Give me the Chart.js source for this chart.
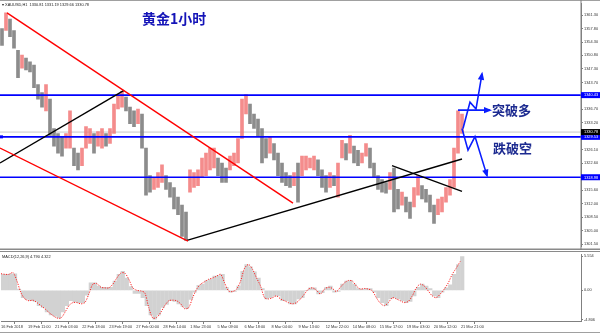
<!DOCTYPE html>
<html lang="zh">
<head>
<meta charset="UTF-8">
<title>黄金1小时</title>
<script src="https://cdn.jsdelivr.net/npm/chart.js@4.4.0/dist/chart.umd.min.js"></script>
<style>
  body { margin: 0; background: #fff; }
  #wrap { position: relative; width: 600px; height: 333px; overflow: hidden; }
  #price { position: absolute; left: 0; top: 0; }
  #macd { position: absolute; left: 0; top: 251px; }
</style>
</head>
<body>
<div id="wrap">
  <canvas id="price" width="600" height="250"></canvas>
  <canvas id="macd" width="600" height="82"></canvas>
</div>
<script>
// time axis labels (one every ~32 H1 bars)
const timeLabels = ['16 Feb 2018', '19 Feb 11:00', '21 Feb 03:00', '22 Feb 18:00', '23 Feb 19:00',
  '27 Feb 00:00', '28 Feb 14:00', '1 Mar 23:00', '5 Mar 09:00', '6 Mar 18:00', '8 Mar 04:00',
  '9 Mar 13:00', '12 Mar 22:00', '14 Mar 08:00', '15 Mar 17:00', '19 Mar 03:00', '20 Mar 12:00',
  '21 Mar 21:00'];
const priceTicks = [1361.30, 1357.80, 1354.30, 1350.80, 1347.30, 1343.70, 1336.70, 1333.20,
  1326.10, 1322.60, 1315.60, 1312.00, 1308.50, 1305.00, 1301.50];
const macdTicks = [5.554, 0, -4.806];

// price range per column (high / low)
const highs = [1357.8, 1361.9, 1360.3, 1357.3, 1352.1, 1350.9, 1350.1, 1349.1, 1348.3, 1343.2,
  1341.1, 1343.2, 1339.4, 1331.7, 1330.4, 1329.6, 1330.4, 1336.3, 1326.6, 1325.3,
  1326.6, 1332.2, 1331.7, 1330.4, 1330.9, 1331.7, 1330.4, 1331.7, 1338.1, 1340.6,
  1341.4, 1339.9, 1337.3, 1336.3, 1336.8, 1335.5, 1326.6, 1319.4, 1318.9, 1320.2,
  1322.2, 1319.4, 1317.6, 1316.3, 1313.8, 1311.7, 1309.9, 1320.9, 1320.2, 1320.9,
  1324.0, 1325.3, 1326.6, 1326.6, 1324.0, 1322.7, 1321.4, 1324.5, 1325.3, 1329.1,
  1339.4, 1340.6, 1338.1, 1335.5, 1334.2, 1331.7, 1329.1, 1329.6, 1327.8, 1325.3,
  1322.7, 1320.2, 1319.4, 1320.2, 1322.7, 1324.5, 1324.5, 1324.0, 1324.5, 1323.5,
  1320.9, 1319.4, 1320.2, 1319.4, 1322.7, 1328.6, 1327.8, 1329.9, 1327.1, 1326.0,
  1325.3, 1327.8, 1326.6, 1322.7, 1319.4, 1318.4, 1317.6, 1320.2, 1321.4, 1315.8,
  1315.1, 1313.8, 1312.5, 1316.3, 1319.4, 1316.8, 1315.8, 1314.3, 1311.7, 1313.3,
  1313.8, 1316.3, 1318.4, 1326.6, 1336.3, 1335.5];
const lows = [1353.4, 1357.3, 1355.7, 1352.7, 1345.0, 1347.5, 1347.0, 1346.5, 1342.4, 1339.4,
  1337.3, 1336.3, 1329.9, 1327.1, 1325.3, 1324.5, 1326.6, 1326.6, 1322.0, 1320.9,
  1322.0, 1326.6, 1327.8, 1325.3, 1327.1, 1326.6, 1327.1, 1327.8, 1330.4, 1336.8,
  1337.3, 1336.3, 1333.0, 1332.2, 1333.0, 1326.6, 1314.3, 1315.1, 1315.8, 1316.3,
  1317.6, 1315.8, 1313.8, 1310.7, 1309.2, 1303.5, 1302.5, 1315.1, 1316.3, 1316.8,
  1318.9, 1319.4, 1320.9, 1321.4, 1319.4, 1317.6, 1317.6, 1320.9, 1322.0, 1322.7,
  1329.1, 1335.5, 1333.0, 1331.7, 1329.6, 1322.7, 1324.0, 1325.3, 1323.5, 1319.4,
  1317.6, 1316.8, 1316.3, 1316.8, 1312.5, 1319.4, 1320.9, 1321.4, 1320.9, 1319.4,
  1316.3, 1315.1, 1316.3, 1316.8, 1313.8, 1324.0, 1323.5, 1325.3, 1322.7, 1322.0,
  1322.7, 1324.5, 1321.4, 1318.9, 1315.8, 1315.1, 1314.8, 1315.8, 1309.9, 1310.7,
  1311.7, 1309.9, 1308.2, 1311.2, 1314.3, 1313.3, 1312.5, 1309.9, 1306.9, 1309.2,
  1309.9, 1312.5, 1314.3, 1316.3, 1325.3, 1330.4];

// MACD(12,26,9)
const macdHist = [2.6, 2.6, 2.7, 2.7, 0.2, -1.2, -1.5, -1.7, -1.8, -2.5,
  -2.8, -3.5, -4.0, -4.2, -4.5, -3.5, -2.5, -1.7, -1.9, -2.0,
  -2.0, -0.8, 1.2, 1.2, 0.7, 0.5, 0.5, 0.5, 1.5, 2.6,
  3.1, 2.0, 0.6, -0.5, -0.5, -1.2, -2.5, -4.0, -4.7, -4.0,
  -2.8, -2.3, -1.7, -1.8, -2.2, -2.6, -3.0, -1.5, -0.3, 0.8,
  1.0, 1.6, 1.8, 2.3, 2.4, 2.6, 0.5, -0.3, -0.2, 0.7,
  3.1, 4.2, 3.8, 3.0, 2.0, 0.3, -1.4, -1.2, -0.9, -0.9,
  -1.7, -1.7, -2.2, -2.2, -1.4, -1.2, 0, 0.4, 0.4, -0.6,
  -0.4, 0.5, 0.7, -0.3, -0.2, 1.0, 1.5, 1.6, 1.0, 0.3,
  0.2, 0.3, 0.3, -0.3, -1.2, -2.0, -2.5, -1.4, -1.2, -1.4,
  -1.7, -2.0, -1.8, -0.9, 0.5, 1.0, 0.7, 0.3, -0.9, -1.2,
  -0.3, 0.4, 0.9, 2.6, 4.2, 5.5];
const macdSignal = [2.7, 2.6, 2.6, 2.9, 1.5, -0.4, -1.4, -1.7, -1.6, -2.0,
  -2.5, -3.0, -3.6, -4.1, -4.5, -4.5, -3.6, -2.5, -2.0, -2.0,
  -2.2, -2.0, -0.6, 1.0, 1.1, 0.5, 0.4, 0.4, 1.0, 2.0,
  2.8, 2.8, 1.8, 0.4, 0, -0.1, -0.4, -2.8, -4.5, -4.4,
  -3.6, -2.5, -1.7, -1.6, -1.7, -2.2, -3.0, -2.8, -1.2, 0.2,
  1.0, 1.4, 1.8, 2.0, 2.3, 2.6, 1.2, -0.1, -0.2, 0.2,
  1.5, 3.6, 4.2, 3.4, 2.0, 0.7, -1.2, -1.4, -1.2, -0.9,
  -1.4, -1.7, -2.0, -2.2, -2.0, -1.4, -0.6, 0.2, 0.4, 0,
  -0.6, 0.2, 0.5, 0.3, -0.2, 0.5, 1.2, 1.6, 1.5, 0.7,
  0.2, 0.3, 0.2, -0.1, -1.2, -2.1, -2.5, -2.0, -1.2, -1.4,
  -1.7, -2.0, -1.8, -0.9, 0.4, 1.0, 0.7, -0.1, -0.9, -1.2,
  -0.6, 0.2, 1.2, 2.6, 3.6, 4.7];

// horizontal levels and drawn objects (anchor = column, price)
const levels = [1340.43, 1329.53, 1318.98];
const lastPrice = 1330.78;
const redLines = [
  [{ x: 1.75, y: 1361.9 }, { x: 73.25, y: 1312.2 }],
  [{ x: 0, y: 1326.6 }, { x: 47, y: 1302.3 }]
];
const blackLines = [
  [{ x: 0, y: 1322.7 }, { x: 31, y: 1341.65 }],
  [{ x: 46.75, y: 1302.5 }, { x: 115.5, y: 1323.75 }],
  [{ x: 98, y: 1322.0 }, { x: 115.5, y: 1315.3 }]
];
const blueArrows = [
  [{ x: 114.5, y: 1336.5 }, { x: 122.5, y: 1336.5 }],
  [{ x: 115.75, y: 1331.7 }, { x: 117.5, y: 1338.6 }, { x: 119, y: 1336.8 }, { x: 120.5, y: 1346.0 }],
  [{ x: 115.5, y: 1331.7 }, { x: 117, y: 1326.05 }, { x: 118.75, y: 1329.6 }, { x: 121.75, y: 1319.4 }]
];

const xMax = 145.25;
const labelStep = 6.775;
const RED = 'rgba(242,120,120,0.85)';
const GRAY = 'rgba(120,120,120,0.85)';
const tickFont = { size: 3.9, family: 'Liberation Sans' };

const candleColors = highs.map((h, i) =>
  i > 0 && (h + lows[i]) >= (highs[i - 1] + lows[i - 1]) ? RED : GRAY);

function xScale(show) {
  return {
    type: 'linear', min: 0, max: xMax, offset: false, display: show,
    afterBuildTicks: s => { s.ticks = timeLabels.map((t, k) => ({ value: k * labelStep })); },
    afterFit: s => { s.height = show ? 12 : 0; },
    ticks: { callback: (v, i) => timeLabels[i], align: 'start', maxRotation: 0, autoSkip: false,
      font: tickFont, color: '#333', padding: 1 },
    grid: { drawOnChartArea: false, tickLength: 3, color: '#808080' },
    border: { display: true, color: '#808080' }
  };
}

function line(data, color, width) {
  return { type: 'line', data: data, borderColor: color, borderWidth: width,
    pointRadius: 0, fill: false, tension: 0, yAxisID: 'y' };
}

const priceSets = [];
blueArrows.forEach(a => { const d = line(a, '#0a1eff', 1.6); d.arrow = true; priceSets.push(d); });
redLines.forEach(l => priceSets.push(line(l, '#ff0000', 1.4)));
blackLines.forEach(l => priceSets.push(line(l, '#000000', 1.4)));
levels.forEach(v => priceSets.push(line([{ x: 0, y: v }, { x: xMax, y: v }], '#0000ff', 1.6)));
priceSets.push({
  type: 'bar', yAxisID: 'y',
  data: highs.map((h, i) => ({ x: i + 0.5, y: [lows[i], h] })),
  backgroundColor: candleColors, barThickness: 3
});
priceSets.push(line([{ x: 0, y: lastPrice }, { x: xMax, y: lastPrice }], '#c8c8c8', 1));

const priceDecor = {
  id: 'priceDecor',
  afterDatasetsDraw(chart) {
    const ctx = chart.ctx;
    chart.data.datasets.forEach((ds, i) => {
      if (!ds.arrow) return;
      const pts = chart.getDatasetMeta(i).data;
      const a = pts[pts.length - 2], b = pts[pts.length - 1];
      const ang = Math.atan2(b.y - a.y, b.x - a.x);
      ctx.save();
      ctx.translate(b.x, b.y);
      ctx.rotate(ang);
      ctx.fillStyle = '#0a1eff';
      ctx.beginPath();
      ctx.moveTo(2, 0); ctx.lineTo(-6, -3.2); ctx.lineTo(-6, 3.2); ctx.closePath();
      ctx.fill();
      ctx.restore();
    });
  },
  afterDraw(chart) {
    const ctx = chart.ctx, y = chart.scales.y;
    ctx.save();
    ctx.fillStyle = '#a0a0a0';
    ctx.fillRect(0, 0, 600, 1);
    ctx.fillStyle = '#8a8a8a';
    ctx.fillRect(0, 248.5, 600, 1.5);
    ctx.fillStyle = '#808080';
    ctx.fillRect(580.5, 0, 1, 250);

    // right axis price boxes
    ctx.font = '3.9px "Liberation Sans"';
    ctx.textBaseline = 'middle';
    const box = (v, bg) => {
      const py = y.getPixelForValue(v);
      ctx.fillStyle = bg;
      ctx.fillRect(581, py - 3, 19, 6);
      ctx.fillStyle = '#fff';
      ctx.fillText(v.toFixed(2), 584, py + 0.3);
    };
    levels.forEach(v => box(v, '#0000ff'));
    box(lastPrice, '#000');
    ctx.fillStyle = '#0000ff';
    ctx.fillRect(0, y.getPixelForValue(levels[1]) - 1.5, 3, 3);

    // header text
    ctx.fillStyle = '#222';
    ctx.font = '3.9px "Liberation Sans"';
    ctx.fillText('▾ XAUUSD,H1  1330.81 1331.19 1329.66 1330.78', 2, 4.5);

    ctx.fillStyle = '#1414b8';
    ctx.font = 'bold 14px "Noto Sans CJK SC"';
    ctx.fillText('黄金1小时', 142, 19);
    ctx.fillStyle = '#1c2a90';
    ctx.font = 'bold 13px "Noto Sans CJK SC"';
    ctx.fillText('突破多', 492, 110);
    ctx.fillText('跌破空', 493, 148);
    ctx.restore();
  }
};

new Chart(document.getElementById('price'), {
  type: 'bar',
  data: { datasets: priceSets },
  options: {
    responsive: false, animation: false, devicePixelRatio: 1,
    layout: { padding: { top: 2, bottom: 1, left: 0, right: 0 } },
    plugins: { legend: { display: false }, tooltip: { enabled: false } },
    scales: {
      x: xScale(false),
      y: {
        position: 'right', min: 1300.85, max: 1364.4,
        afterBuildTicks: s => { s.ticks = priceTicks.map(v => ({ value: v })); },
        afterFit: s => { s.width = 19; },
        ticks: { callback: v => v.toFixed(2), font: tickFont, color: '#333', padding: 1 },
        grid: { drawOnChartArea: false, tickLength: 2, color: '#808080' },
        border: { display: true, color: '#808080' }
      }
    }
  },
  plugins: [priceDecor]
});

const macdDecor = {
  id: 'macdDecor',
  afterDraw(chart) {
    const ctx = chart.ctx;
    ctx.save();
    ctx.fillStyle = '#8a8a8a';
    ctx.fillRect(0, 0, 600, 1);
    ctx.fillStyle = '#a0a0a0';
    ctx.fillRect(0, 81, 600, 1);
    ctx.fillStyle = '#222';
    ctx.font = '3.9px "Liberation Sans"';
    ctx.textBaseline = 'middle';
    ctx.fillText('MACD(12,26,9) 4.790 4.322', 2, 6);
    ctx.restore();
  }
};

new Chart(document.getElementById('macd'), {
  type: 'bar',
  data: {
    datasets: [
      { type: 'line', yAxisID: 'm', data: macdSignal.map((v, i) => ({ x: i, y: v })),
        borderColor: '#ff2020', borderWidth: 1, borderDash: [1.2, 1.3], pointRadius: 0,
        tension: 0.3, fill: false },
      { type: 'bar', yAxisID: 'm', data: macdHist.map((v, i) => ({ x: i + 0.5, y: v })),
        backgroundColor: '#d2d2d2', barThickness: 3.6 }
    ]
  },
  options: {
    responsive: false, animation: false, devicePixelRatio: 1,
    layout: { padding: { top: 2, bottom: 0, left: 0, right: 0 } },
    plugins: { legend: { display: false }, tooltip: { enabled: false } },
    scales: {
      x: xScale(true),
      m: {
        position: 'right', min: -4.99, max: 5.85,
        afterBuildTicks: s => { s.ticks = macdTicks.map(v => ({ value: v })); },
        afterFit: s => { s.width = 19; },
        ticks: { callback: v => v === 0 ? '0.00' : v.toFixed(3), font: tickFont, color: '#333', padding: 1 },
        grid: { drawOnChartArea: false, tickLength: 2, color: '#808080' },
        border: { display: true, color: '#808080' }
      }
    }
  },
  plugins: [macdDecor]
});
</script>
</body>
</html>
